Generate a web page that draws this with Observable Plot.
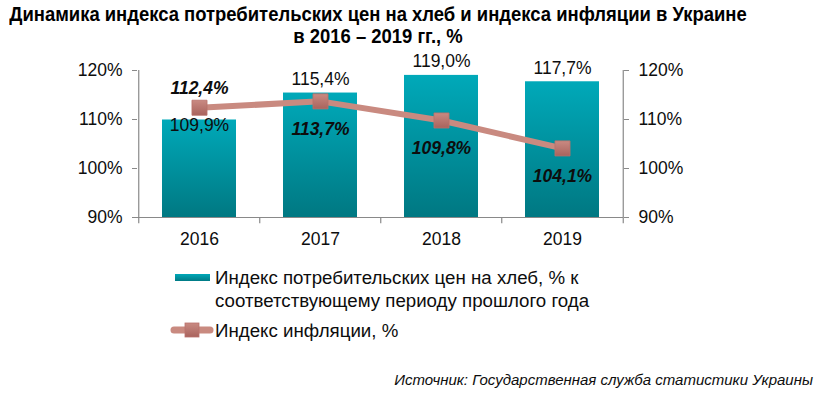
<!DOCTYPE html>
<html>
<head>
<meta charset="utf-8">
<script src="https://cdn.jsdelivr.net/npm/d3@7"></script>
<script src="https://cdn.jsdelivr.net/npm/@observablehq/plot@0.6"></script>
<style>
  html, body { margin: 0; padding: 0; background: #fff; }
  #wrap { position: relative; width: 826px; height: 397px; font-family: "Liberation Sans", Arial, sans-serif; color: #0d0d0d; overflow: hidden; }
  #title { position: absolute; left: -42px; top: 3px; width: 840px; text-align: center; white-space: nowrap; font-family: "Liberation Sans Narrow", "Arial Narrow", "Liberation Sans", Arial, sans-serif; font-weight: bold; font-size: 20.5px; line-height: 22px; color: #000; transform: scaleX(0.9); transform-origin: 420px 0; }
  #chart { position: absolute; left: 0; top: 48px; }
  .leg { position: absolute; font-size: 18.7px; line-height: 23px; color: #0d0d0d; white-space: nowrap; }
  #caption { position: absolute; right: 13px; top: 371px; font-style: italic; font-size: 15px; color: #0d0d0d; }
</style>
</head>
<body>
<div id="wrap">
  <div id="title">Динамика индекса потребительских цен на хлеб и индекса инфляции в Украине<br>в 2016 – 2019 гг., %</div>
  <div id="chart"></div>
  <div class="leg" style="left:175px; top:274px; width:35px; height:7px; background:linear-gradient(#00a8b8,#007a85);"></div>
  <div class="leg" style="left:215px; top:266px;">Индекс потребительских цен на хлеб, % к<br>соответствующему периоду прошлого года</div>
  <svg class="leg" style="left:168px; top:321px;" width="48" height="18">
    <defs><linearGradient id="legMk" x1="0" y1="0" x2="0" y2="1"><stop offset="0" stop-color="#c98a82"/><stop offset="1" stop-color="#a9635d"/></linearGradient></defs>
    <line x1="6" y1="9" x2="42" y2="9" stroke="#c98a80" stroke-width="7" stroke-linecap="round"/>
    <rect x="17" y="2" width="14" height="14" fill="url(#legMk)" stroke="#b9716b" stroke-width="0.8"/>
  </svg>
  <div class="leg" style="left:215px; top:319px;">Индекс инфляции, %</div>
  <div id="caption">Источник: Государственная служба статистики Украины</div>
</div>
<script>
const years = ["2016", "2017", "2018", "2019"];
const breadIndex = [109.9, 115.4, 119.0, 117.7];
const inflationIndex = [112.4, 113.7, 109.8, 104.1];
const yTicks = [90, 100, 110, 120];
// label placement (style)
const breadLabelSide = ["inside", "above", "above", "above"];
const inflationLabelSide = ["above", "below", "below", "below"];

const fmt = v => v.toFixed(1).replace(".", ",") + "%";
const bread = years.map((y, i) => ({year: y, value: breadIndex[i], side: breadLabelSide[i]}));
const infl = years.map((y, i) => ({year: y, value: inflationIndex[i], side: inflationLabelSide[i]}));

const width = 826, marginLeft = 137, marginRight = 203;
const step = (width - marginLeft - marginRight) / years.length;
const axisColor = "#898989";
const fs = 17.5;

const plot = Plot.plot({
  width,
  height: 209,
  marginTop: 22,
  marginBottom: 40,
  marginLeft,
  marginRight,
  style: {fontFamily: "'Liberation Sans', Arial, sans-serif", fontSize: fs + "px", color: "#0d0d0d", background: "transparent", overflow: "visible"},
  x: {domain: years, paddingInner: 0.39, paddingOuter: 0.195, align: 0.5, label: null},
  y: {domain: [90, 120], label: null},
  marks: [
    Plot.barY(bread, {x: "year", y1: 90, y2: "value", fill: "url(#barGrad)"}),
    // axis lines
    Plot.ruleY([90], {stroke: axisColor, strokeWidth: 1.2}),
    Plot.ruleX([years[0]], {y1: 90, y2: 120, dx: -step / 2, stroke: axisColor, strokeWidth: 1.2}),
    Plot.ruleX([years[years.length - 1]], {y1: 90, y2: 120, dx: step / 2, stroke: axisColor, strokeWidth: 1.2}),
    // x tick marks at band boundaries
    Plot.ruleX(years, {y1: 90, y2: 88.75, dx: -step / 2, stroke: axisColor, strokeWidth: 1.2}),
    Plot.ruleX([years[years.length - 1]], {y1: 90, y2: 88.75, dx: step / 2, stroke: axisColor, strokeWidth: 1.2}),
    Plot.axisY({anchor: "left", label: null, ticks: yTicks, tickFormat: d => d + "%", tickSize: 5, tickPadding: 10, stroke: axisColor, fill: "#0d0d0d", fontSize: fs}),
    Plot.axisY({anchor: "right", label: null, ticks: yTicks, tickFormat: d => d + "%", tickSize: 5, tickPadding: 10, stroke: axisColor, fill: "#0d0d0d", fontSize: fs}),
    Plot.axisX({label: null, tickSize: 0, tickPadding: 15, fill: "#0d0d0d", fontSize: fs}),
    // bar labels
    Plot.text(bread.filter(d => d.side === "above"), {x: "year", y: "value", text: d => fmt(d.value), lineAnchor: "bottom", dy: -8, fontSize: fs, fill: "#0d0d0d"}),
    Plot.text(bread.filter(d => d.side === "inside"), {x: "year", y: "value", text: d => fmt(d.value), lineAnchor: "top", dy: -1, fontSize: fs, fill: "#0d0d0d"}),
    // inflation line
    Plot.line(infl, {x: "year", y: "value", stroke: "#c98a80", strokeWidth: 6}),
    Plot.dot(infl, {x: "year", y: "value", symbol: "square", r: 8.5, fill: "url(#mkGrad)", stroke: "#b9716b", strokeWidth: 0.8}),
    Plot.text(infl.filter(d => d.side === "above"), {x: "year", y: "value", text: d => fmt(d.value), dy: -19, fontSize: fs, fontWeight: "bold", fontStyle: "italic", fill: "#0d0d0d"}),
    Plot.text(infl.filter(d => d.side === "below"), {x: "year", y: "value", text: d => fmt(d.value), dy: 28, fontSize: fs, fontWeight: "bold", fontStyle: "italic", fill: "#0d0d0d"})
  ]
});

const defs = document.createElementNS("http://www.w3.org/2000/svg", "defs");
defs.innerHTML = `
  <linearGradient id="barGrad" x1="0" y1="0" x2="0" y2="1">
    <stop offset="0" stop-color="#00a9b9"/>
    <stop offset="1" stop-color="#007882"/>
  </linearGradient>
  <linearGradient id="mkGrad" x1="0" y1="0" x2="0" y2="1">
    <stop offset="0" stop-color="#c98a82"/>
    <stop offset="1" stop-color="#a9635d"/>
  </linearGradient>`;
plot.insertBefore(defs, plot.firstChild);
document.getElementById("chart").appendChild(plot);
</script>
</body>
</html>
